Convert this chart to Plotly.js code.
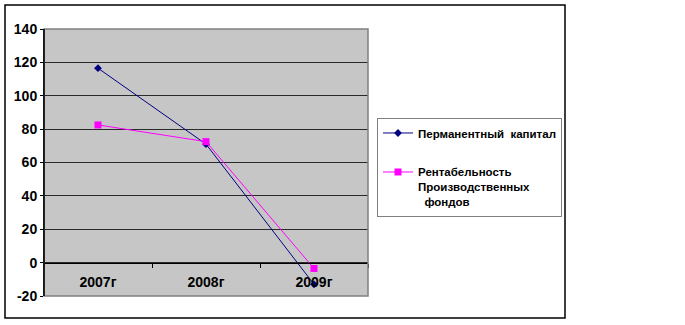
<!DOCTYPE html>
<html>
<head>
<meta charset="utf-8">
<script src="https://cdn.plot.ly/plotly-3.0.1.min.js"></script>
<style>html,body{margin:0;padding:0;background:#fff;}#chart{width:685px;height:325px;}</style>
</head>
<body>
<div id="chart"></div>
<script>
const categories = ['2007г', '2008г', '2009г'];
const permanentCapital = [116.5, 71, -13];
const profitability = [82.5, 72.5, -3.5];
const seriesNames = ['Перманентный  капитал', 'Рентабельность<br>Производственных<br>  фондов'];
const yTicks = [-20, 0, 20, 40, 60, 80, 100, 120, 140];

const L = 44, R = 317, T = 29, B = 29;
const W = 685 - L - R, H = 325 - T - B;
const px = x => (x - L) / W;
const py = y => (325 - B - y) / H;

const traces = [
  {
    x: categories, y: permanentCapital, name: '<b>' + seriesNames[0] + '</b>',
    type: 'scatter', mode: 'lines+markers', legendgroup: 'a',
    line: {color: '#000080', width: 1},
    marker: {symbol: 'diamond', size: 6, color: '#000080'}
  },
  {
    x: categories, y: profitability, name: '<b>' + seriesNames[1] + '</b>',
    type: 'scatter', mode: 'lines+markers', legendgroup: 'b',
    line: {color: '#ff00ff', width: 1},
    marker: {symbol: 'square', size: 7, color: '#ff00ff'}
  }
];

const layout = {
  width: 685, height: 325,
  margin: {l: L, r: R, t: T, b: B, pad: 0},
  paper_bgcolor: '#ffffff',
  plot_bgcolor: '#c6c6c6',
  font: {family: 'Liberation Sans, Arial, sans-serif', color: '#000'},
  showlegend: true,
  legend: {
    x: px(377), y: py(118), xanchor: 'left', yanchor: 'top',
    bgcolor: '#ffffff', bordercolor: '#808080', borderwidth: 1,
    font: {size: 11.5, color: '#000'},
    valign: 'top', tracegroupgap: 20, itemwidth: 30
  },
  xaxis: {
    type: 'category', range: [-0.5, 2.5],
    anchor: 'free', position: py(263),
    showline: true, linecolor: '#000', linewidth: 1,
    ticks: 'outside', ticklen: 4, tickcolor: '#000', tickson: 'boundaries',
    showgrid: false, zeroline: false,
    tickfont: {size: 14, color: '#000', weight: 'bold'},
    ticklabelstandoff: 6, fixedrange: true
  },
  yaxis: {
    range: [-20, 140], tickvals: yTicks, ticktext: yTicks.map(String),
    showline: true, linecolor: '#000', linewidth: 1,
    ticks: 'outside', ticklen: 3, tickcolor: '#000',
    showgrid: true, gridcolor: '#2a2a2a', gridwidth: 1,
    zeroline: false,
    tickfont: {size: 14, color: '#000', weight: 'bold'},
    fixedrange: true
  },
  shapes: [
    {type: 'rect', xref: 'paper', yref: 'paper', x0: 0, x1: 1, y0: 0, y1: 1,
     line: {color: '#808080', width: 1.5}, layer: 'above'},
    {type: 'line', xref: 'paper', yref: 'paper', x0: 0, x1: 0, y0: 0, y1: 1,
     line: {color: '#000', width: 1.5}, layer: 'above'},
    {type: 'rect', xref: 'paper', yref: 'paper', x0: px(5), x1: px(565), y0: py(318), y1: py(5),
     line: {color: '#000', width: 1.5}, layer: 'above'}
  ]
};

Plotly.newPlot('chart', traces, layout, {displayModeBar: false, staticPlot: true});
</script>
</body>
</html>
